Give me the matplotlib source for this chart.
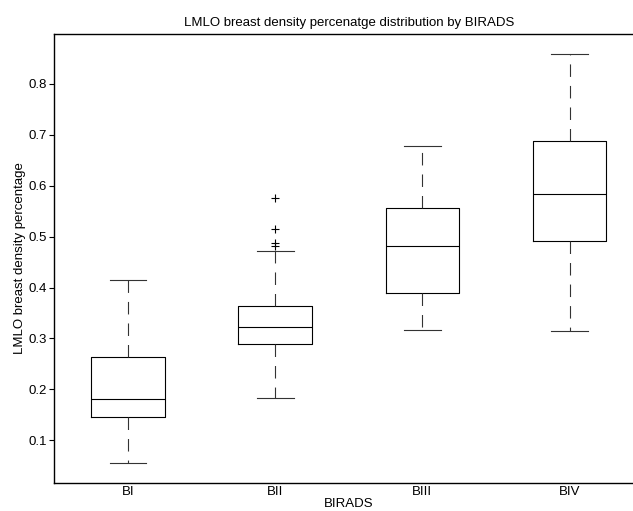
import matplotlib
matplotlib.use("Agg")
import matplotlib.pyplot as plt

plt.rcParams["font.family"] = ["Liberation Sans", "DejaVu Sans"]
plt.rcParams["font.size"] = 9.5
plt.rcParams["lines.scale_dashes"] = False

# values
categories = ["BI", "BII", "BIII", "BIV"]
whisker_lo = [0.056, 0.183, 0.317, 0.315]
q1 = [0.146, 0.289, 0.389, 0.492]
medians = [0.182, 0.323, 0.481, 0.584]
q3 = [0.264, 0.363, 0.557, 0.687]
whisker_hi = [0.414, 0.472, 0.678, 0.858]
outliers = [[], [0.575, 0.515, 0.487, 0.482], [], []]

stats = []
for i in range(len(categories)):
    stats.append(dict(label=categories[i], whislo=whisker_lo[i], q1=q1[i],
                      med=medians[i], q3=q3[i], whishi=whisker_hi[i],
                      fliers=outliers[i]))

fig = plt.figure(figsize=(6.33, 5.11), dpi=100)
ax = fig.add_axes([0.086, 0.0548, 0.93, 0.8787])

lw = 0.8
ax.bxp(stats, widths=0.5, showfliers=True,
       boxprops=dict(color="k", linewidth=lw),
       medianprops=dict(color="k", linewidth=lw),
       whiskerprops=dict(color="#333333", linewidth=lw, linestyle=(0, (9, 6.5))),
       capprops=dict(color="#333333", linewidth=lw),
       flierprops=dict(marker="+", markersize=6, markeredgecolor="k",
                       markeredgewidth=0.8, linestyle="none"))

ax.set_xlim(0.5, 4.5)
ax.set_ylim(0.0161, 0.898)
ax.set_yticks([0.1, 0.2, 0.3, 0.4, 0.5, 0.6, 0.7, 0.8])
ax.set_yticklabels(["0.1", "0.2", "0.3", "0.4", "0.5", "0.6", "0.7", "0.8"])
ax.tick_params(axis="y", direction="out", length=3.5, width=0.8, pad=2)
ax.tick_params(axis="x", length=0, pad=2.5)
ax.spines["right"].set_visible(False)
for s in ["top", "bottom", "left"]:
    ax.spines[s].set_linewidth(1.0)

ax.set_title("LMLO breast density percenatge distribution by BIRADS", pad=6, fontsize=9.5)
ax.set_xlabel("BIRADS", labelpad=0)
ax.set_ylabel("LMLO breast density percentage", labelpad=2)

fig.savefig("out.png", dpi=100)
